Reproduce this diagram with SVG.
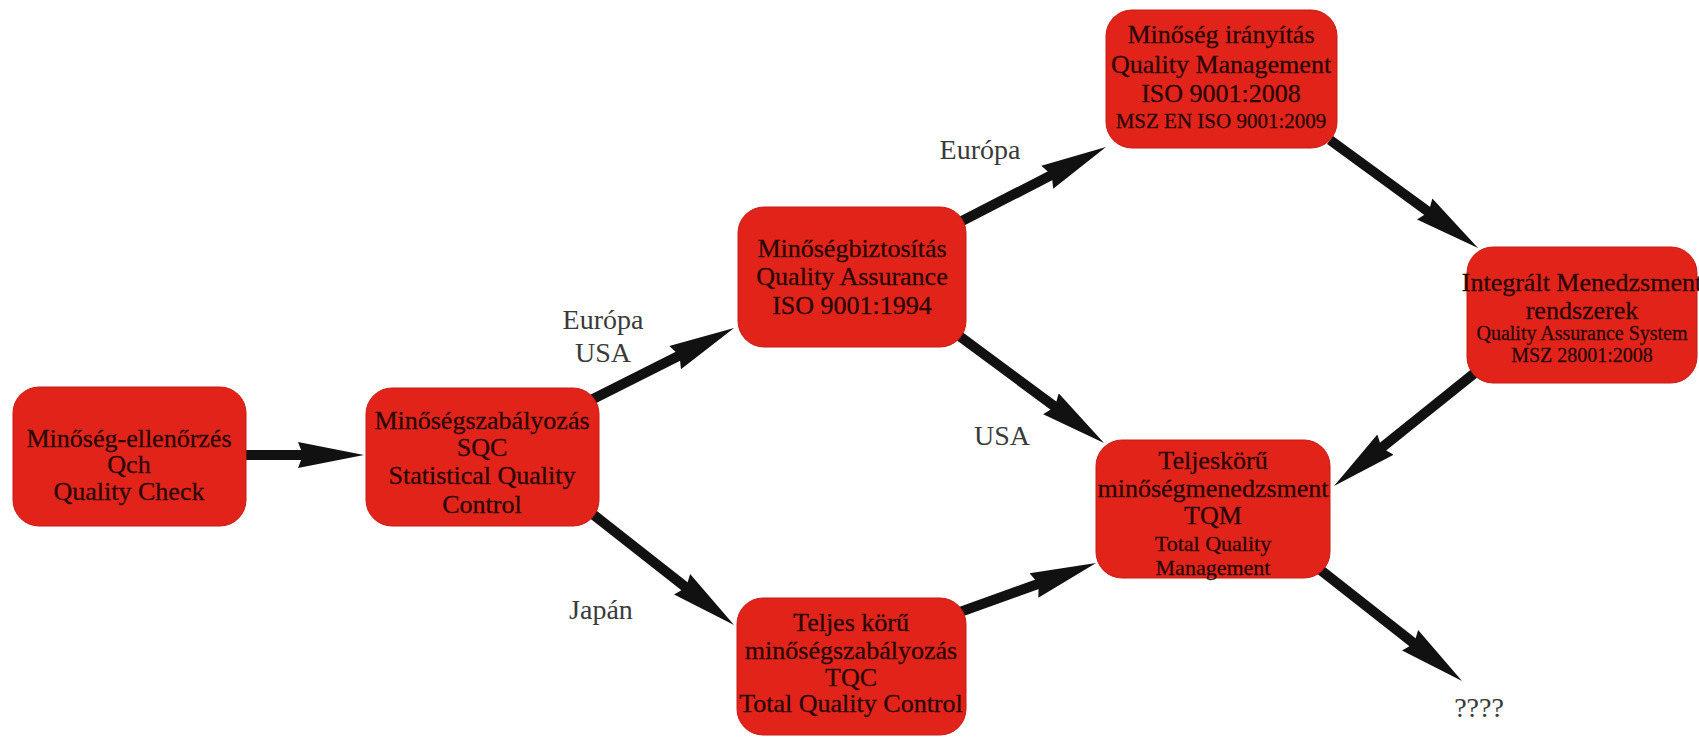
<svg xmlns="http://www.w3.org/2000/svg" width="1699" height="737" viewBox="0 0 1699 737">
<defs>
<marker id="ah" markerUnits="userSpaceOnUse" viewBox="0 0 66 28" refX="16" refY="14" markerWidth="66" markerHeight="28" orient="auto">
<path d="M0,1 L66,14 L0,27 L5,14 z" fill="#111"/>
</marker>
<style>
.node{fill:#e2231a;stroke:#c81b14;stroke-width:1}
.t{font-family:"Liberation Serif","Times New Roman",serif;font-size:26px;fill:#2a0808;stroke:#2a0808;stroke-width:0.3;text-anchor:middle}
.s{font-size:20px}
.m{font-size:22px}
.lbl{font-family:"Liberation Serif","Times New Roman",serif;font-size:28px;fill:#3a3a3a;text-anchor:middle}
.c{stroke:#111;stroke-width:10;fill:none;marker-end:url(#ah)}
</style>
</defs>
<rect width="1699" height="737" fill="#ffffff"/>
<g id="connectors">
<path class="c" d="M238,455 L314,455"/>
<path class="c" d="M591,400 L689.4,350.5"/>
<path class="c" d="M960,222 L1061.5,169.9"/>
<path class="c" d="M1330,140 L1437.6,218.5"/>
<path class="c" d="M958,335 L1063.8,413.3"/>
<path class="c" d="M1476,372 L1373,454.7"/>
<path class="c" d="M590,512 L694.7,594.2"/>
<path class="c" d="M960,612 L1049,580"/>
<path class="c" d="M1318,568 L1422.7,650.2"/>
</g>
<g id="n1">
<rect class="node" x="13" y="387" width="233" height="139" rx="26"/>
<text class="t" x="129" y="447">Minőség-ellenőrzés</text>
<text class="t" x="129" y="473">Qch</text>
<text class="t" x="129" y="500">Quality Check</text>
</g>
<g id="n2">
<rect class="node" x="366" y="388" width="233" height="138" rx="26"/>
<text class="t" x="482" y="429">Minőségszabályozás</text>
<text class="t" x="482" y="456">SQC</text>
<text class="t" x="482" y="484">Statistical Quality</text>
<text class="t" x="482" y="513">Control</text>
</g>
<g id="n3">
<rect class="node" x="738" y="207" width="228" height="140" rx="26"/>
<text class="t" x="852" y="257">Minőségbiztosítás</text>
<text class="t" x="852" y="285">Quality Assurance</text>
<text class="t" x="852" y="314">ISO 9001:1994</text>
</g>
<g id="n4">
<rect class="node" x="1106" y="10" width="231" height="138" rx="26"/>
<text class="t" x="1221" y="43">Minőség irányítás</text>
<text class="t" x="1221" y="73">Quality Management</text>
<text class="t" x="1221" y="102">ISO 9001:2008</text>
<text class="t" x="1221" y="128" style="font-size:21px">MSZ EN ISO 9001:2009</text>
</g>
<g id="n5">
<rect class="node" x="1467" y="247" width="230" height="136" rx="26"/>
<text class="t" x="1582" y="291">Integrált Menedzsment</text>
<text class="t" x="1582" y="319">rendszerek</text>
<text class="t s" x="1582" y="340">Quality Assurance System</text>
<text class="t s" x="1582" y="362">MSZ 28001:2008</text>
</g>
<g id="n6">
<rect class="node" x="1096" y="440" width="234" height="138" rx="26"/>
<text class="t" x="1213" y="469">Teljeskörű</text>
<text class="t" x="1213" y="497">minőségmenedzsment</text>
<text class="t" x="1213" y="524">TQM</text>
<text class="t m" x="1213" y="551">Total Quality</text>
<text class="t m" x="1213" y="575">Management</text>
</g>
<g id="n7">
<rect class="node" x="737" y="598" width="229" height="137" rx="26"/>
<text class="t" x="851" y="631">Teljes körű</text>
<text class="t" x="851" y="659">minőségszabályozás</text>
<text class="t" x="851" y="686">TQC</text>
<text class="t" x="851" y="712">Total Quality Control</text>
</g>
<g id="labels">
<text class="lbl" x="603" y="329">Európa</text>
<text class="lbl" x="603" y="362">USA</text>
<text class="lbl" x="980" y="159">Európa</text>
<text class="lbl" x="1002" y="445">USA</text>
<text class="lbl" x="601" y="619">Japán</text>
<text class="lbl" x="1479" y="717">????</text>
</g>
</svg>
